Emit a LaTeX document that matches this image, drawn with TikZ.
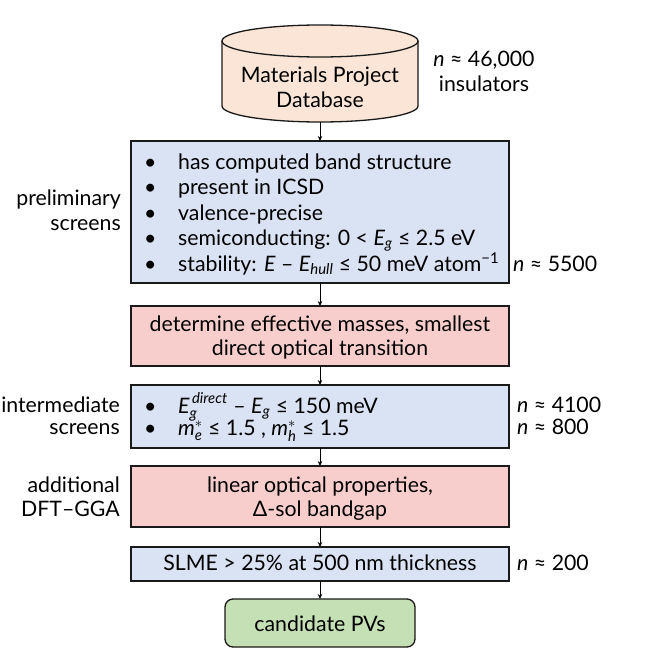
\documentclass[tikz,border=0pt]{standalone}
\usepackage{amsmath}
\usepackage{fontspec}
\setmainfont{Lato}
\usetikzlibrary{arrows.meta}
\definecolor{bluefill}{HTML}{DAE3F3}
\definecolor{redfill}{HTML}{F8CECC}
\definecolor{peachfill}{HTML}{FBE5D6}
\definecolor{greenfill}{HTML}{C5E0B4}
\definecolor{edgecol}{HTML}{1A1A1A}
\newcommand\bulitem[1]{\hbox{\makebox[34pt][l]{\textbullet}#1}}
\newcommand\bullist[2]{\vtop{\baselineskip=#1\lineskiplimit=-100pt\lineskip=0pt #2}}
\tikzset{
  every node/.style={font=\fontsize{21.3}{25}\selectfont, inner sep=0pt, text=black},
  boxbase/.style={draw=edgecol, line width=1.3pt, inner sep=0pt, outer sep=0pt},
  bluebox/.style={boxbase, fill=bluefill, minimum width=378pt},
  redbox/.style={boxbase, fill=redfill, minimum width=378pt},
  greenbox/.style={boxbase, fill=greenfill, rounded corners=8pt, minimum width=190pt},
  cylstyle/.style={draw=edgecol, line width=1.3pt, fill=peachfill},
  flow/.style={draw=black, line width=0.9pt, -{Stealth[length=5pt,width=4.5pt]}},
  lbl/.style={anchor=base east},
  rlbl/.style={anchor=base west},
  ctr/.style={anchor=base},
  bul/.style={anchor=base west},
}
\begin{document}
\begin{tikzpicture}[x=1pt,y=-1pt]
\useasboundingbox (0,0) rectangle (654,666);
% database cylinder
\fill[peachfill] (222,41) -- (222,106) arc[start angle=180,end angle=360,x radius=98pt,y radius=16pt] -- (418,41) -- cycle;
\draw[cylstyle] (222,41) -- (222,106) arc[start angle=180,end angle=360,x radius=98pt,y radius=16pt] -- (418,41);
\draw[cylstyle] (320,41) ellipse [x radius=98pt, y radius=16pt];
\coordinate (dbbottom) at (320,122);
\node[ctr] (db1) at (320,83) {Materials Project};
\node[ctr] (db2) at (320,108) {Database};
\node[ctr] (n1a) at (484,67) {\textit{n} ≈ 46,000};
\node[ctr] (n1b) at (484,92) {insulators};

% box 1
\node[bluebox, minimum height=142pt] (b1) at (320,212) {};
\node[bul] (b1list) at (144,169) {\bullist{25.5pt}{%
  \bulitem{has computed band structure}
  \bulitem{present in ICSD}
  \bulitem{valence-precise}
  \bulitem{semiconducting: 0 < $\textit{E}_{\textit{g}}$ ≤ 2.5 eV}
  \bulitem{stability: \textit{E} – $\textit{E}_{\textit{hull}}$ ≤ 50 meV atom\textsuperscript{−1}}}};
\node[lbl] (l1a) at (121,205) {preliminary};
\node[lbl] (l1b) at (121,230) {screens};
\node[rlbl] (n2) at (513,271) {\textit{n} ≈ 5500};

% red box 1
\node[redbox, minimum height=60pt] (r1) at (320,336) {};
\node[ctr] (r1a) at (320,331) {determine effective masses, smallest};
\node[ctr] (r1b) at (320,355) {direct optical transition};

% box 2
\node[bluebox, minimum height=63pt] (b2) at (320,416.5) {};
\node[bul] (b2list) at (144,413) {\bullist{22pt}{%
  \bulitem{$\textit{E}_{\textit{g}}^{\,\textit{direct}}$ – $\textit{E}_{\textit{g}}$ ≤ 150 meV}
  \bulitem{$\textit{m}_{\textit{e}}^{*}$ ≤ 1.5 , $\textit{m}_{\textit{h}}^{*}$ ≤ 1.5}}};
\node[lbl] (l2a) at (120,412) {intermediate};
\node[lbl] (l2b) at (120,434) {screens};
\node[rlbl] (n3) at (517,412) {\textit{n} ≈ 4100};
\node[rlbl] (n4) at (517,434) {\textit{n} ≈ 800};

% red box 2
\node[redbox, minimum height=61pt] (r2) at (320,496.5) {};
\node[ctr] (r2a) at (320,492) {linear optical properties,};
\node[ctr] (r2b) at (320,516) {Δ-sol bandgap};
\node[lbl] (l3a) at (120,492) {additional};
\node[lbl] (l3b) at (120,516) {DFT–GGA};

% box 3
\node[bluebox, minimum height=34pt] (b3) at (320,564) {};
\node[ctr] (b3t) at (320,570) {SLME > 25\% at 500 nm thickness};
\node[rlbl] (n5) at (517,570) {\textit{n} ≈ 200};

% green
\node[greenbox, minimum height=48pt] (g) at (320,623) {};
\node[ctr] (gt) at (320,631) {candidate PVs};

% arrows
\draw[flow] (dbbottom) -- (b1.north);
\draw[flow] (b1.south) -- (r1.north);
\draw[flow] (r1.south) -- (b2.north);
\draw[flow] (b2.south) -- (r2.north);
\draw[flow] (r2.south) -- (b3.north);
\draw[flow] (b3.south) -- (g.north);
\end{tikzpicture}
\end{document}
